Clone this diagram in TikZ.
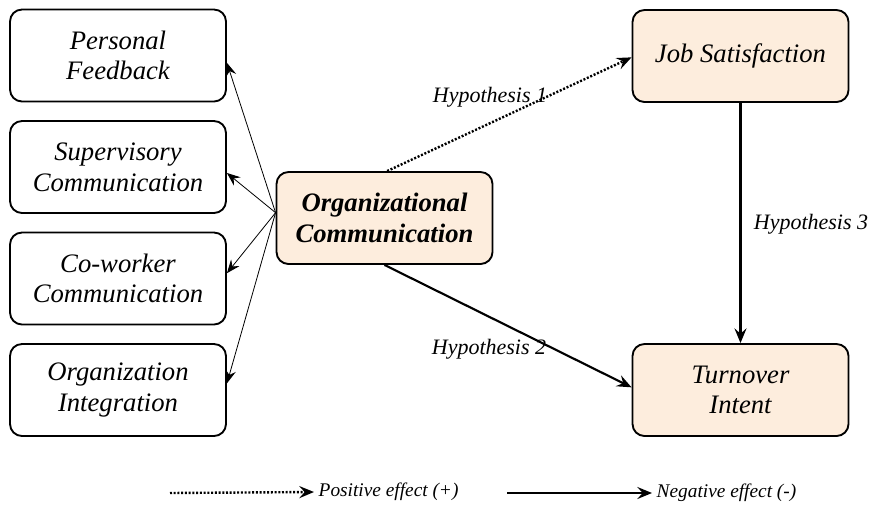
\documentclass[tikz,border=0pt]{standalone}
\usepackage{fontspec}
\setmainfont{Liberation Serif}
\usetikzlibrary{arrows.meta}
\definecolor{peach}{RGB}{253,237,221}
\tikzset{
  box/.style={draw, line width=1.4pt, rounded corners=9pt, minimum width=162pt, minimum height=69pt,
    align=center, font=\fontsize{20}{23}\selectfont\itshape},
  hbox/.style={box, fill=peach},
  lbl/.style={font=\fontsize{16.5}{19}\selectfont\itshape},
  leg/.style={font=\fontsize{14.5}{16}\selectfont\itshape},
  thinarr/.style={-{Stealth[length=10pt,width=8pt,inset=3.5pt]}, line width=0.6pt},
  posarr/.style={-{Stealth[length=11pt,width=9pt,inset=4pt]}, line width=1.8pt, dash pattern=on 1.5pt off 1.3pt},
  negarr/.style={-{Stealth[length=11pt,width=9pt,inset=4pt]}, line width=1.6pt}
}
\begin{document}
\begin{tikzpicture}[x=0.75pt,y=-0.75pt]
\useasboundingbox (0,0) rectangle (872,508);
% left column
\node[box] (pf) at (118,55.5){Personal\\Feedback};
\node[box] (sc) at (118,167){Supervisory\\Communication};
\node[box] (cc) at (118,278.5){Co-worker\\Communication};
\node[box] (oi) at (118,390){Organization\\Integration};
% centre and right
\node[hbox, font=\fontsize{20}{23}\selectfont\bfseries\itshape] (oc) at (384.5,218){Organizational\\Communication};
\node[hbox] (js) at (740.5,56){Job Satisfaction};
\node[hbox] (ti) at (740.5,390){Turnover\\Intent};
\draw[thinarr] ([yshift=4pt]oc.west) -- ([yshift=-5.5pt]pf.east);
\draw[thinarr] ([yshift=4pt]oc.west) -- ([yshift=-4.5pt]sc.east);
\draw[thinarr] ([yshift=4pt]oc.west) -- ([yshift=4pt]cc.east);
\draw[thinarr] ([yshift=4pt]oc.west) -- ([yshift=5pt]oi.east);
\draw[posarr] ([xshift=2pt]oc.north) -- ([yshift=-1pt]js.west);
\draw[negarr] (oc.south) -- ([yshift=2pt]ti.west);
\draw[negarr] (js.south) -- (ti.north);
\node[lbl] (h1) at (490,97){Hypothesis 1};
\node[lbl] (h2) at (489,349){Hypothesis 2};
\node[lbl] (h3) at (811,224){Hypothesis 3};
% legend
\coordinate (p0) at (170,493);
\node[leg, anchor=west] (pos) at (314,492){Positive effect (+)};
\coordinate (n0) at (507,493);
\node[leg, anchor=west] (neg) at (652,493){Negative effect (-)};
\draw[posarr] (p0) -- (pos.west);
\draw[negarr] (n0) -- (neg.west);
\end{tikzpicture}
\end{document}
